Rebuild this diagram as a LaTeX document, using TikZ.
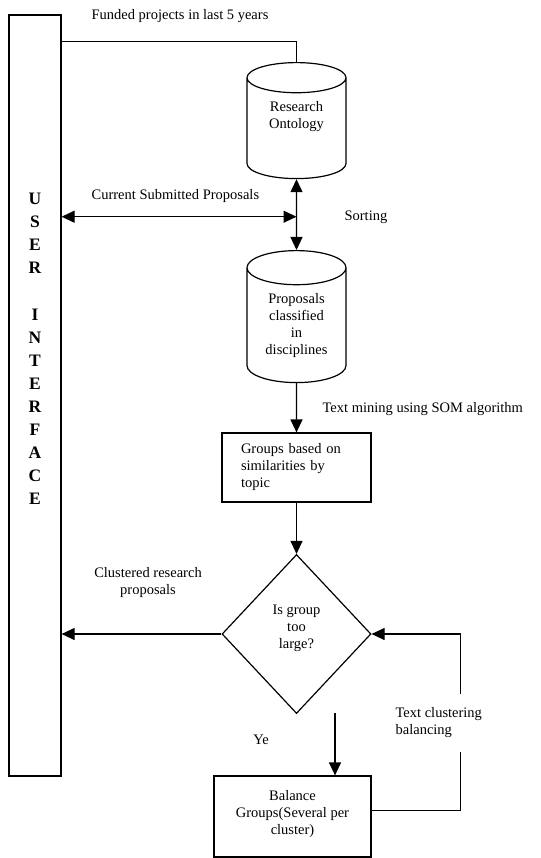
\documentclass[tikz,border=0pt]{standalone}
\usepackage{fontspec}
\setmainfont{Liberation Serif}
\usepackage{tikz}
\usetikzlibrary{arrows.meta,calc,positioning,shapes.geometric}

\begin{document}
\begin{tikzpicture}[
  x=1pt, y=-1pt,
  font=\fontsize{14.5}{17}\selectfont,
  >={Triangle[length=13pt,width=12pt]},
  line width=1.2pt,
  box/.style={draw, rectangle, inner sep=0pt, align=center},
  store/.style={draw, cylinder, shape border rotate=90, aspect=0.55,
    minimum width=99pt, inner sep=0pt, align=center, anchor=north},
  decision/.style={draw, diamond, aspect=0.937, minimum width=149pt,
    minimum height=159pt, inner sep=0pt, align=center},
  label/.style={inner sep=0pt},
  arrow/.style={->},
  both/.style={<->}
]
  \useasboundingbox (0,0) rectangle (540,858);

  \node[box, minimum width=52pt, minimum height=761pt] (ui) at (35,395.5) {};
  \node[label, align=center, font=\fontsize{17.5}{23.1}\selectfont\bfseries] (uitext) at (35,349)
    {U\\S\\E\\R\\[23.1pt]I\\N\\T\\E\\R\\F\\A\\C\\E};

  \node[store, minimum height=116pt] (ontology) at (296.5,62) {Research\\Ontology\\[10pt]};
  \node[store, minimum height=132pt] (classified) at (296.5,250) {Proposals\\classified\\in\\disciplines};
  \node[box, minimum width=149pt, minimum height=69pt, text width=111pt, align=left] (groups)
    at (296.5,467.5) {Groups based on\\similarities by\\topic};
  \node[decision] (decide) at (296.5,634) {Is group\\too\\large?\\[-2pt]};
  \node[box, minimum width=157pt, minimum height=81pt] (balance) at (292.5,816.5)
    {Balance\\Groups(Several per\\cluster)\\[-8pt]};

  \coordinate (sortjoin) at ($(ontology.south)!0.53!(classified.north)$);
  \coordinate (yestop) at (335,713);

  \draw (ui.north east) ++(0,27) -| (ontology.north);
  \draw[both] (ui.east |- sortjoin) -- (sortjoin);
  \draw[both] (ontology.south) -- (classified.north);
  \draw[arrow] (classified.south) -- (groups.north);
  \draw[arrow] (groups.south) -- (decide.north);
  \draw[arrow] (decide.west) -- (ui.east |- decide.west);
  \draw[arrow] (yestop) -- (yestop |- balance.north);
  \draw[arrow] ([yshift=6pt]balance.east) -- ++(89,0) |- (decide.east);

  \node[label, anchor=west] (funded) at (91,16) {Funded projects in last 5 years};
  \node[label, anchor=west] (current) at (91,196) {Current Submitted Proposals};
  \node[label, anchor=west] (sorting) at (344,217) {Sorting};
  \node[label, anchor=west] (mining) at (322,409) {Text mining using SOM algorithm};
  \node[label, align=center] (clustered) at (148,583) {Clustered research\\proposals};
  \node[label] (ye) at (261,740) {Ye};
  \node[label, anchor=west, align=left, fill=white, minimum height=58pt] (balancing)
    at (395,723) {Text clustering\\balancing};
\end{tikzpicture}
\end{document}
